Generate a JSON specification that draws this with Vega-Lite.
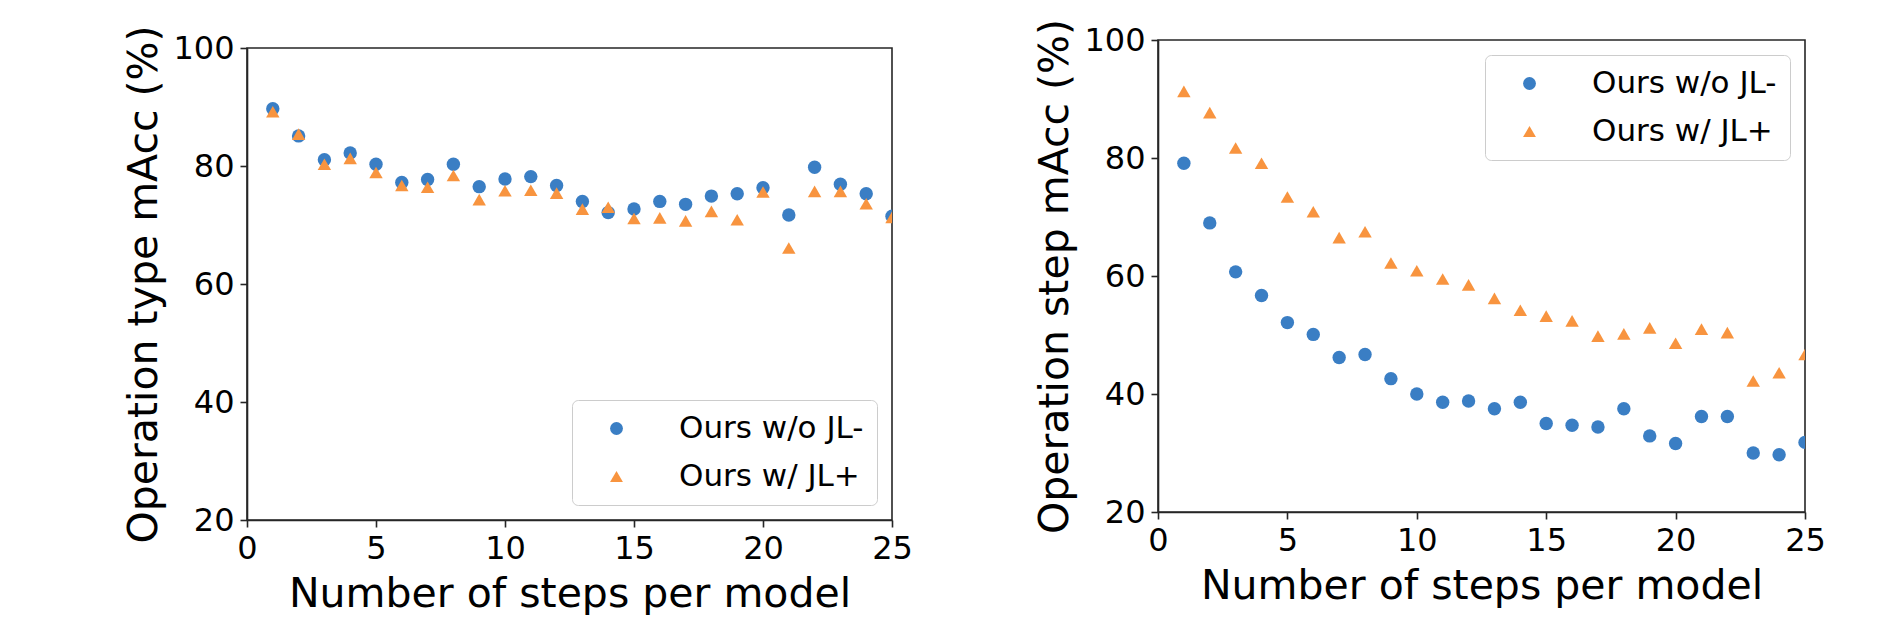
{
  "$schema": "https://vega.github.io/schema/vega-lite/v6.json",
  "padding": {"left": 123, "top": 17, "right": 0, "bottom": 0},
  "datasets": {
    "typeAcc": [
      {"steps": 1, "series": "Ours w/o JL-", "macc": 89.7},
      {"steps": 2, "series": "Ours w/o JL-", "macc": 85.1},
      {"steps": 3, "series": "Ours w/o JL-", "macc": 81.05},
      {"steps": 4, "series": "Ours w/o JL-", "macc": 82.2},
      {"steps": 5, "series": "Ours w/o JL-", "macc": 80.3},
      {"steps": 6, "series": "Ours w/o JL-", "macc": 77.2},
      {"steps": 7, "series": "Ours w/o JL-", "macc": 77.7},
      {"steps": 8, "series": "Ours w/o JL-", "macc": 80.3},
      {"steps": 9, "series": "Ours w/o JL-", "macc": 76.5},
      {"steps": 10, "series": "Ours w/o JL-", "macc": 77.8},
      {"steps": 11, "series": "Ours w/o JL-", "macc": 78.2},
      {"steps": 12, "series": "Ours w/o JL-", "macc": 76.7},
      {"steps": 13, "series": "Ours w/o JL-", "macc": 74.0},
      {"steps": 14, "series": "Ours w/o JL-", "macc": 72.1},
      {"steps": 15, "series": "Ours w/o JL-", "macc": 72.7},
      {"steps": 16, "series": "Ours w/o JL-", "macc": 74.0},
      {"steps": 17, "series": "Ours w/o JL-", "macc": 73.5},
      {"steps": 18, "series": "Ours w/o JL-", "macc": 74.9},
      {"steps": 19, "series": "Ours w/o JL-", "macc": 75.3},
      {"steps": 20, "series": "Ours w/o JL-", "macc": 76.3},
      {"steps": 21, "series": "Ours w/o JL-", "macc": 71.7},
      {"steps": 22, "series": "Ours w/o JL-", "macc": 79.8},
      {"steps": 23, "series": "Ours w/o JL-", "macc": 76.9},
      {"steps": 24, "series": "Ours w/o JL-", "macc": 75.3},
      {"steps": 25, "series": "Ours w/o JL-", "macc": 71.5},
      {"steps": 1, "series": "Ours w/ JL+", "macc": 89.2},
      {"steps": 2, "series": "Ours w/ JL+", "macc": 85.4},
      {"steps": 3, "series": "Ours w/ JL+", "macc": 80.3},
      {"steps": 4, "series": "Ours w/ JL+", "macc": 81.3},
      {"steps": 5, "series": "Ours w/ JL+", "macc": 78.9},
      {"steps": 6, "series": "Ours w/ JL+", "macc": 76.7},
      {"steps": 7, "series": "Ours w/ JL+", "macc": 76.4},
      {"steps": 8, "series": "Ours w/ JL+", "macc": 78.4},
      {"steps": 9, "series": "Ours w/ JL+", "macc": 74.3},
      {"steps": 10, "series": "Ours w/ JL+", "macc": 75.8},
      {"steps": 11, "series": "Ours w/ JL+", "macc": 75.9},
      {"steps": 12, "series": "Ours w/ JL+", "macc": 75.4},
      {"steps": 13, "series": "Ours w/ JL+", "macc": 72.7},
      {"steps": 14, "series": "Ours w/ JL+", "macc": 73.0},
      {"steps": 15, "series": "Ours w/ JL+", "macc": 71.1},
      {"steps": 16, "series": "Ours w/ JL+", "macc": 71.2},
      {"steps": 17, "series": "Ours w/ JL+", "macc": 70.7},
      {"steps": 18, "series": "Ours w/ JL+", "macc": 72.3},
      {"steps": 19, "series": "Ours w/ JL+", "macc": 70.9},
      {"steps": 20, "series": "Ours w/ JL+", "macc": 75.6},
      {"steps": 21, "series": "Ours w/ JL+", "macc": 66.1},
      {"steps": 22, "series": "Ours w/ JL+", "macc": 75.7},
      {"steps": 23, "series": "Ours w/ JL+", "macc": 75.7},
      {"steps": 24, "series": "Ours w/ JL+", "macc": 73.6},
      {"steps": 25, "series": "Ours w/ JL+", "macc": 71.3}
    ],
    "stepAcc": [
      {"steps": 1, "series": "Ours w/o JL-", "macc": 79.1},
      {"steps": 2, "series": "Ours w/o JL-", "macc": 69.0},
      {"steps": 3, "series": "Ours w/o JL-", "macc": 60.7},
      {"steps": 4, "series": "Ours w/o JL-", "macc": 56.7},
      {"steps": 5, "series": "Ours w/o JL-", "macc": 52.1},
      {"steps": 6, "series": "Ours w/o JL-", "macc": 50.1},
      {"steps": 7, "series": "Ours w/o JL-", "macc": 46.2},
      {"steps": 8, "series": "Ours w/o JL-", "macc": 46.7},
      {"steps": 9, "series": "Ours w/o JL-", "macc": 42.6},
      {"steps": 10, "series": "Ours w/o JL-", "macc": 40.0},
      {"steps": 11, "series": "Ours w/o JL-", "macc": 38.6},
      {"steps": 12, "series": "Ours w/o JL-", "macc": 38.8},
      {"steps": 13, "series": "Ours w/o JL-", "macc": 37.5},
      {"steps": 14, "series": "Ours w/o JL-", "macc": 38.6},
      {"steps": 15, "series": "Ours w/o JL-", "macc": 35.0},
      {"steps": 16, "series": "Ours w/o JL-", "macc": 34.7},
      {"steps": 17, "series": "Ours w/o JL-", "macc": 34.4},
      {"steps": 18, "series": "Ours w/o JL-", "macc": 37.5},
      {"steps": 19, "series": "Ours w/o JL-", "macc": 32.9},
      {"steps": 20, "series": "Ours w/o JL-", "macc": 31.6},
      {"steps": 21, "series": "Ours w/o JL-", "macc": 36.2},
      {"steps": 22, "series": "Ours w/o JL-", "macc": 36.2},
      {"steps": 23, "series": "Ours w/o JL-", "macc": 30.0},
      {"steps": 24, "series": "Ours w/o JL-", "macc": 29.7},
      {"steps": 25, "series": "Ours w/o JL-", "macc": 31.8},
      {"steps": 1, "series": "Ours w/ JL+", "macc": 91.3},
      {"steps": 2, "series": "Ours w/ JL+", "macc": 87.7},
      {"steps": 3, "series": "Ours w/ JL+", "macc": 81.7},
      {"steps": 4, "series": "Ours w/ JL+", "macc": 79.1},
      {"steps": 5, "series": "Ours w/ JL+", "macc": 73.4},
      {"steps": 6, "series": "Ours w/ JL+", "macc": 70.9},
      {"steps": 7, "series": "Ours w/ JL+", "macc": 66.5},
      {"steps": 8, "series": "Ours w/ JL+", "macc": 67.5},
      {"steps": 9, "series": "Ours w/ JL+", "macc": 62.2},
      {"steps": 10, "series": "Ours w/ JL+", "macc": 60.9},
      {"steps": 11, "series": "Ours w/ JL+", "macc": 59.5},
      {"steps": 12, "series": "Ours w/ JL+", "macc": 58.5},
      {"steps": 13, "series": "Ours w/ JL+", "macc": 56.2},
      {"steps": 14, "series": "Ours w/ JL+", "macc": 54.2},
      {"steps": 15, "series": "Ours w/ JL+", "macc": 53.2},
      {"steps": 16, "series": "Ours w/ JL+", "macc": 52.4},
      {"steps": 17, "series": "Ours w/ JL+", "macc": 49.8},
      {"steps": 18, "series": "Ours w/ JL+", "macc": 50.2},
      {"steps": 19, "series": "Ours w/ JL+", "macc": 51.2},
      {"steps": 20, "series": "Ours w/ JL+", "macc": 48.6},
      {"steps": 21, "series": "Ours w/ JL+", "macc": 51.0},
      {"steps": 22, "series": "Ours w/ JL+", "macc": 50.4},
      {"steps": 23, "series": "Ours w/ JL+", "macc": 42.2},
      {"steps": 24, "series": "Ours w/ JL+", "macc": 43.6},
      {"steps": 25, "series": "Ours w/ JL+", "macc": 46.7}
    ]
  },
  "hconcat": [
    {
      "spacing": 0,
      "bounds": "flush",
      "vconcat": [
        {
          "width": 645,
          "height": 8,
          "view": {"stroke": null},
          "data": {"values": [{"pad": 0}]},
          "mark": {"type": "point", "opacity": 0},
          "encoding": {}
        },
        {
          "width": 645,
          "height": 472,
          "data": {"name": "typeAcc"},
          "mark": {"type": "point", "filled": true, "opacity": 1, "size": 180, "clip": true},
          "encoding": {
            "x": {"field": "steps", "type": "quantitative", "scale": {"domain": [0, 25], "nice": false}, "axis": {"title": "Number of steps per model", "values": [0, 5, 10, 15, 20, 25]}},
            "y": {"field": "macc", "type": "quantitative", "scale": {"domain": [20, 100], "nice": false}, "axis": {"title": "Operation type mAcc (%)", "values": [20, 40, 60, 80, 100]}},
            "color": {"field": "series", "type": "nominal", "scale": {"domain": ["Ours w/o JL-", "Ours w/ JL+"], "range": ["#3a7ec4", "#f8943f"]}, "legend": {"title": null, "orient": "bottom-right"}},
            "shape": {"field": "series", "type": "nominal", "scale": {"domain": ["Ours w/o JL-", "Ours w/ JL+"], "range": ["circle", "triangle-up"]}, "legend": {"title": null, "orient": "bottom-right"}}
          }
        }
      ],
      "resolve": {
        "scale": {"color": "independent", "shape": "independent", "x": "independent", "y": "independent"},
        "legend": {"color": "independent", "shape": "independent"}
      }
    },
    {
      "width": 647,
      "height": 472,
      "data": {"name": "stepAcc"},
      "mark": {"type": "point", "filled": true, "opacity": 1, "size": 180, "clip": true},
      "encoding": {
        "x": {"field": "steps", "type": "quantitative", "scale": {"domain": [0, 25], "nice": false}, "axis": {"title": "Number of steps per model", "values": [0, 5, 10, 15, 20, 25]}},
        "y": {"field": "macc", "type": "quantitative", "scale": {"domain": [20, 100], "nice": false}, "axis": {"title": "Operation step mAcc (%)", "values": [20, 40, 60, 80, 100]}},
        "color": {"field": "series", "type": "nominal", "scale": {"domain": ["Ours w/o JL-", "Ours w/ JL+"], "range": ["#3a7ec4", "#f8943f"]}, "legend": {"title": null, "orient": "top-right"}},
        "shape": {"field": "series", "type": "nominal", "scale": {"domain": ["Ours w/o JL-", "Ours w/ JL+"], "range": ["circle", "triangle-up"]}, "legend": {"title": null, "orient": "top-right"}}
      }
    }
  ],
  "resolve": {
    "scale": {"color": "independent", "shape": "independent", "x": "independent", "y": "independent"},
    "legend": {"color": "independent", "shape": "independent"}
  },
  "config": {
    "font": "DejaVu Sans",
    "background": "white",
    "concat": {"spacing": 120},
    "view": {"stroke": "#262626", "strokeWidth": 1.6},
    "axis": {
      "grid": false,
      "domainColor": "#262626",
      "domainWidth": 1.6,
      "tickColor": "#262626",
      "tickWidth": 1.6,
      "tickSize": 7,
      "labelFont": "DejaVu Sans",
      "labelFontSize": 32,
      "labelColor": "black",
      "labelPadding": 6,
      "labelFlush": false,
      "labelOverlap": false,
      "titleFont": "DejaVu Sans",
      "titleFontSize": 41,
      "titleFontWeight": "normal",
      "titleColor": "black"
    },
    "axisX": {"titlePadding": 10},
    "axisY": {"titlePadding": 7},
    "legend": {
      "offset": 15,
      "padding": 13,
      "fillColor": "rgba(255,255,255,0.8)",
      "strokeColor": "#cccccc",
      "cornerRadius": 6,
      "labelFont": "DejaVu Sans",
      "labelFontSize": 31,
      "labelColor": "black",
      "labelLimit": 500,
      "symbolSize": 165,
      "symbolOffset": 16,
      "labelOffset": 47,
      "rowPadding": 16,
      "symbolStrokeWidth": 0,
      "symbolOpacity": 1
    }
  }
}
